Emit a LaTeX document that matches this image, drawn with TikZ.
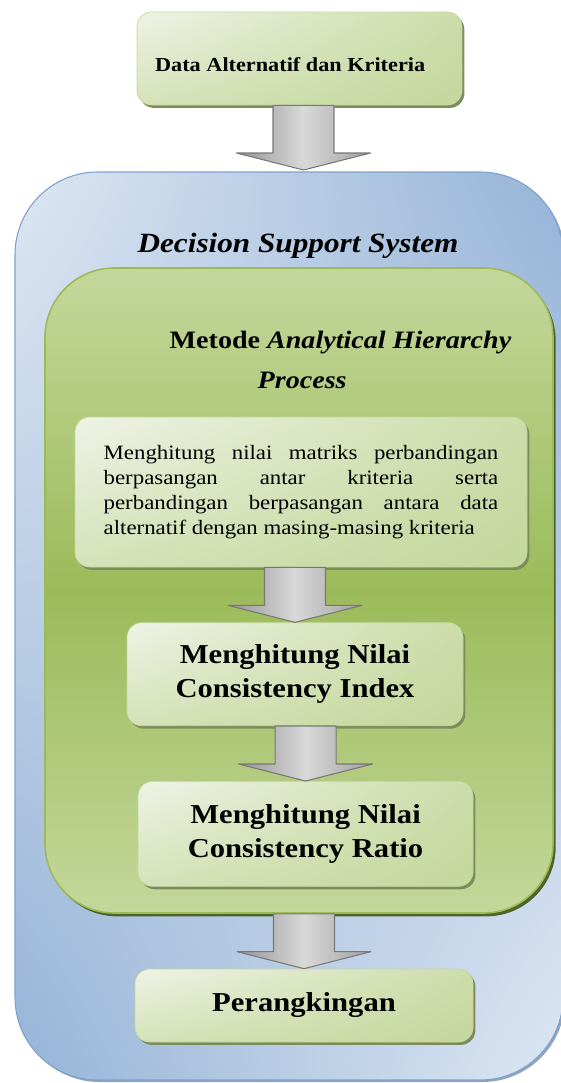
\documentclass[tikz,border=0pt]{standalone}
\usepackage{fontspec}
\setmainfont{Liberation Serif}[FakeStretch=1.12]
\usetikzlibrary{calc, positioning, shadows, shadings}
\definecolor{cBlueLt}{RGB}{221,231,243}
\definecolor{cBlueDk}{RGB}{149,179,215}
\definecolor{cBlueLine}{RGB}{126,161,207}
\definecolor{cGreenLt}{RGB}{196,215,155}
\definecolor{cGreenMd}{RGB}{155,187,89}
\definecolor{cGreenDk}{RGB}{79,98,40}
\definecolor{cPale}{RGB}{238,243,229}
\definecolor{cBoxShadow}{RGB}{125,140,95}
\definecolor{cArrow}{RGB}{120,120,120}
\tikzset{
	outerbox/.style={rectangle, rounded corners=62pt, draw=cBlueLine, line width=0.8pt,
		upper left=cBlueLt, upper right=cBlueDk, lower left=cBlueDk, lower right=cBlueLt,
		drop shadow={shadow xshift=1.5pt, shadow yshift=-1.5pt, fill=cBlueDk!70!gray, opacity=1}},
	ahpbox/.style={rectangle, rounded corners=52pt, draw=cGreenMd, line width=1.2pt,
		top color=cGreenLt, bottom color=cGreenLt, middle color=cGreenMd,
		drop shadow={shadow xshift=2pt, shadow yshift=-2.5pt, fill=cGreenDk, opacity=1}},
	stepbox/.style={rectangle, rounded corners=11pt, draw=cGreenLt, line width=0.5pt, align=center,
		upper left=cPale, upper right=cGreenLt!80!cPale, lower left=cGreenLt!60!cPale, lower right=cGreenLt,
		drop shadow={shadow xshift=1.8pt, shadow yshift=-2.2pt, fill=cBoxShadow, opacity=1}},
	blockarrow/.style={draw=cArrow, line width=0.8pt, line join=round,
		left color=gray!85, right color=gray!75, middle color=gray!30},
	% font sizes
	bigfont/.style={font=\fontsize{20.5}{25.5}\selectfont\bfseries},
}
% block arrow from the bottom of one node to a point on the next
\newcommand{\blkarrow}[2]{%
	\path[blockarrow] ($(#2 |- #1)+(-30.5,0)$) -- ($(#2)+(-30.5,-17)$) -- ($(#2)+(-67,-17)$) -- (#2)
		-- ($(#2)+(67,-17)$) -- ($(#2)+(30.5,-17)$) -- ($(#2 |- #1)+(30.5,0)$) -- cycle;}

\begin{document}
\begin{tikzpicture}[x=0.75pt, y=-0.75pt]
	\useasboundingbox (0,0) rectangle (561,1083);
	\node[outerbox, minimum width=411pt, minimum height=681pt] (dss) at (289,626) {};
	\node[font=\fontsize{20.9}{25}\selectfont\bfseries\itshape, anchor=base] (dsstitle) at (298,252) {Decision Support System};
	\node[ahpbox, minimum width=381pt, minimum height=483.75pt] (ahp) at (299,590.5) {};
	\node[font=\fontsize{18.8}{22}\selectfont\bfseries, anchor=base west] (ahptitle) at (165,348) {Metode \textit{Analytical Hierarchy}};
	\node[font=\fontsize{18.8}{22}\selectfont\bfseries\itshape, anchor=base west] (ahpsub) at (253,388) {Process};

	\node[stepbox, minimum width=243.75pt, minimum height=69.75pt, font=\fontsize{14.9}{18}\selectfont\bfseries] (data) at (299.5,58.5)
		{\raisebox{-10pt}[0pt][0pt]{Data Alternatif dan Kriteria}\hspace*{14pt}};
	\node[stepbox, minimum width=339pt, minimum height=112.5pt, text width=296pt, align=justify,
		font=\fontsize{15.3}{18.75}\selectfont] (pair) at (301,492)
		{\hyphenpenalty=10000 \tolerance=9999 Menghitung nilai matriks perbandingan\linebreak
		berpasangan antar kriteria serta\linebreak
		perbandingan berpasangan antara data\linebreak
		alternatif dengan masing-masing kriteria};
	\node[stepbox, bigfont, minimum width=252pt, minimum height=77.25pt, below=41.25pt of pair, xshift=-4.5pt] (ci) {Menghitung Nilai\\Consistency Index};
	\node[stepbox, bigfont, minimum width=251.25pt, minimum height=78.75pt, below=41.25pt of ci, xshift=7.9pt] (cr) {Menghitung Nilai\\Consistency Ratio};
	\node[stepbox, bigfont, minimum width=253.5pt, minimum height=54.75pt] (rank) at (304,1005.5) {Perangkingan};

	\coordinate (dssin) at (303.5,170);
	\blkarrow{data.south}{dssin}
	\blkarrow{pair.south}{ci.north}
	\blkarrow{ci.south}{cr.north}
	\blkarrow{ahp.south}{rank.north}
\end{tikzpicture}
\end{document}
